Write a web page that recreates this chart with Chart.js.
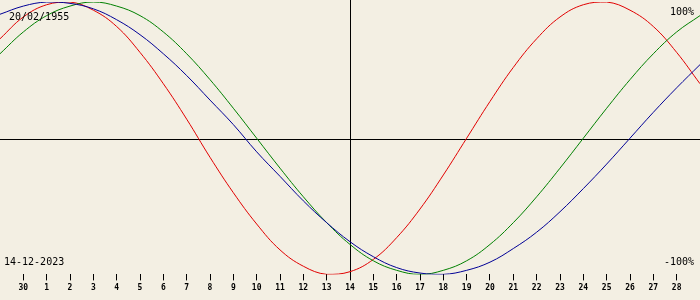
<!DOCTYPE html>
<html>
<head>
<meta charset="utf-8">
<script src="https://cdn.jsdelivr.net/npm/chart.js@4/dist/chart.umd.min.js"></script>
<style>
  html, body { margin: 0; padding: 0; background: #f3efe3; }
  canvas { display: block; }
</style>
</head>
<body>
<canvas id="bioChart" width="700" height="300"></canvas>
<script>
// day labels, 29 Nov .. 29 Dec (first and last are just the edges)
const days = ['29', '30', '1', '2', '3', '4', '5', '6', '7', '8', '9', '10', '11', '12', '13', '14',
    '15', '16', '17', '18', '19', '20', '21', '22', '23', '24', '25', '26', '27', '28', '29'];

// percentages, one per day
const physical = [73, 89, 98, 100, 94, 82, 63, 40, 14, -14, -40, -63, -82, -94, -100, -98,
    -89, -73, -52, -27, 0, 27, 52, 73, 89, 98, 100, 94, 82, 63, 40];
const emotional = [62, 78, 90, 97, 100, 97, 90, 78, 62, 43, 22, 0, -22, -43, -62, -78,
    -90, -97, -100, -97, -90, -78, -62, -43, -22, 0, 22, 43, 62, 78, 90];
const intellectual = [91, 97, 100, 99, 95, 87, 76, 62, 46, 28, 10, -10, -28, -46, -62, -76,
    -87, -95, -99, -100, -97, -91, -81, -69, -54, -37, -19, 0, 19, 37, 54];

const birthDate = '20/02/1955';
const viewDate = '14-12-2023';
const todayIndex = 15;

const crossLines = {
    id: 'crossLines',
    beforeDatasetsDraw(chart) {
        const { ctx, chartArea, scales } = chart;
        const x = Math.round(scales.x.getPixelForValue(todayIndex)) + 0.5;
        const y = Math.round(scales.y.getPixelForValue(0)) + 1.5;
        ctx.save();
        ctx.strokeStyle = '#000';
        ctx.lineWidth = 1;
        ctx.beginPath();
        ctx.moveTo(0, y);
        ctx.lineTo(chart.width, y);
        ctx.moveTo(x, 0);
        ctx.lineTo(x, chartArea.bottom);
        ctx.stroke();
        ctx.restore();
    },
    afterDraw(chart) {
        const { ctx } = chart;
        ctx.save();
        ctx.fillStyle = '#000';
        ctx.font = '10px "DejaVu Sans Mono"';
        ctx.textBaseline = 'middle';
        ctx.textAlign = 'left';
        ctx.fillText(birthDate, 9, 17);
        ctx.fillText(viewDate, 4, 262);
        ctx.textAlign = 'right';
        ctx.fillText('100%', 694, 12);
        ctx.fillText('-100%', 694, 262);
        ctx.restore();
    }
};

new Chart(document.getElementById('bioChart').getContext('2d'), {
    type: 'line',
    data: {
        labels: days,
        datasets: [{
            label: 'Intellectual',
            data: intellectual,
            borderColor: 'rgb(0, 0, 150)'
        }, {
            label: 'Emotional',
            data: emotional,
            borderColor: 'rgb(0, 128, 0)'
        }, {
            label: 'Physical',
            data: physical,
            borderColor: 'rgb(225, 0, 0)'
        }]
    },
    options: {
        responsive: false,
        animation: false,
        layout: { autoPadding: false, padding: { top: 2, left: 0, right: 0, bottom: 4 } },
        elements: {
            point: { radius: 0, hoverRadius: 0 },
            line: { borderWidth: 1, tension: 0.4, fill: false }
        },
        plugins: {
            legend: { display: false },
            tooltip: { enabled: false }
        },
        scales: {
            x: {
                offset: false,
                border: { display: false },
                afterFit: (scale) => {
                    // curves run edge to edge
                    scale.paddingLeft = 0;
                    scale.paddingRight = 0;
                },
                grid: {
                    drawOnChartArea: false,
                    tickLength: 6,
                    tickColor: (c) => (c.index === 0 || c.index === days.length - 1) ? 'transparent' : '#000'
                },
                ticks: {
                    autoSkip: false,
                    maxRotation: 0,
                    padding: 3,
                    color: '#000',
                    font: { family: 'DejaVu Sans Mono', size: 8, weight: 'bold' },
                    callback: (v, i) => (i === 0 || i === days.length - 1) ? '' : days[i]
                }
            },
            y: { display: false, min: -100, max: 100 }
        }
    },
    plugins: [crossLines]
});
</script>
</body>
</html>
